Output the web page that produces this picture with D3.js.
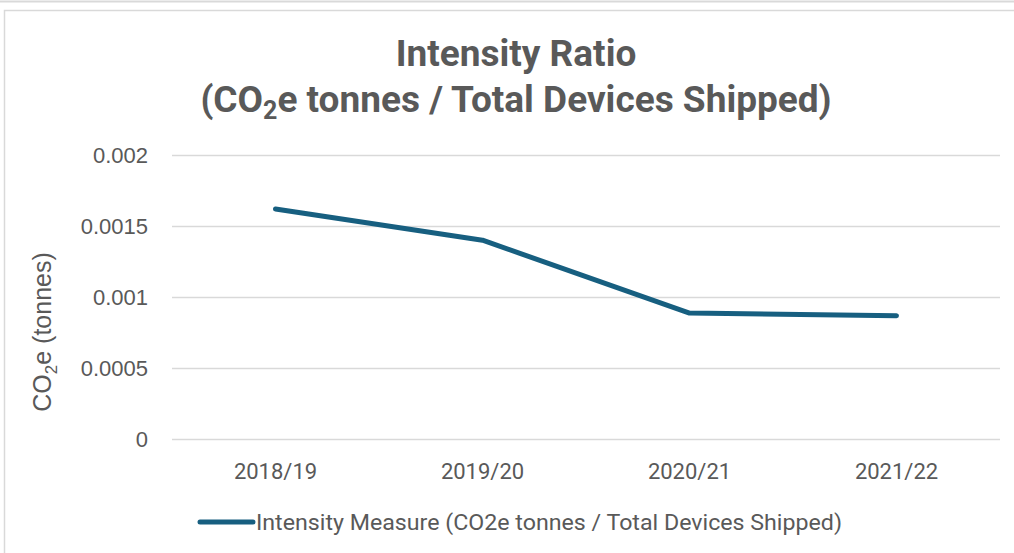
<!DOCTYPE html>
<html>
<head>
<meta charset="utf-8">
<script src="https://cdn.jsdelivr.net/npm/d3@7"></script>
<style>
	body { margin: 0; background: #fff; }
	svg text { font-family: Roboto, "Open Sans", sans-serif; fill: #595959; }
</style>
</head>
<body>
<div class="chart"></div>
<script>
// data
const years = ["2018/19", "2019/20", "2020/21", "2021/22"];
const intensity = [0.00162, 0.00140, 0.000887, 0.000868];
const yTicks = [0, 0.0005, 0.001, 0.0015, 0.002];
const seriesName = "Intensity Measure (CO2e tonnes / Total Devices Shipped)";

(function () {
	drawChart();
}());

function drawChart() {

	const widthSVG = 1014,
		heightSVG = 553;

	const plot = {left: 172, right: 1000, top: 155, bottom: 439};
	const lineColor = "#175f80";

	const svg = d3.select(".chart").append("svg")
		.attr("width", widthSVG)
		.attr("height", heightSVG);

	// outer frame
	svg.append("line")
		.attr("x1", 0).attr("x2", widthSVG)
		.attr("y1", 1.5).attr("y2", 1.5)
		.attr("stroke", "#d9d9d9").attr("stroke-width", 2);
	svg.append("path")
		.attr("d", "M4.5," + heightSVG + "V10.5H" + widthSVG)
		.attr("fill", "none")
		.attr("stroke", "#d9d9d9").attr("stroke-width", 1.5);

	const x = d3.scaleBand()
		.domain(years)
		.range([plot.left, plot.right]);

	const y = d3.scaleLinear()
		.domain([0, 0.002])
		.range([plot.bottom, plot.top]);

	// gridlines
	svg.append("g")
		.selectAll("line")
		.data(yTicks)
		.enter().append("line")
		.attr("x1", plot.left)
		.attr("x2", plot.right)
		.attr("y1", function (d) { return y(d) + 0.5; })
		.attr("y2", function (d) { return y(d) + 0.5; })
		.attr("stroke", "#d9d9d9")
		.attr("stroke-width", 1.5);

	// y axis labels
	const yAxis = d3.axisLeft(y).tickValues(yTicks).tickSize(0).tickPadding(0)
		.tickFormat(function (d) { return String(+d.toFixed(4)); });
	const gy = svg.append("g")
		.attr("transform", "translate(148,0)")
		.call(yAxis);
	gy.select(".domain").remove();
	gy.selectAll("text")
		.attr("font-size", 22)
		.attr("font-family", null)
		.attr("dy", "0.35em")
		.style("font-family", "'Liberation Sans', Arial, sans-serif")
		.style("fill", "#595959");

	// x axis labels
	const xAxis = d3.axisBottom(x).tickSize(0).tickPadding(0);
	const gx = svg.append("g")
		.attr("transform", "translate(0,479)")
		.call(xAxis);
	gx.select(".domain").remove();
	gx.selectAll("text")
		.attr("font-size", 22)
		.attr("font-family", null)
		.attr("dy", 0)
		.style("fill", "#595959");

	// line
	const line = d3.line()
		.x(function (d, i) { return x(years[i]) + x.bandwidth() / 2; })
		.y(function (d) { return y(d); });

	svg.append("path")
		.datum(intensity)
		.attr("fill", "none")
		.attr("stroke", lineColor)
		.attr("stroke-width", 5)
		.attr("stroke-linecap", "round")
		.attr("stroke-linejoin", "round")
		.attr("d", line);

	// title
	const title = svg.append("text")
		.attr("text-anchor", "middle")
		.attr("font-weight", "bold")
		.attr("font-size", 37);
	title.append("tspan")
		.attr("x", 516).attr("y", 66)
		.text("Intensity Ratio");
	const t2 = title.append("tspan")
		.attr("x", 516).attr("y", 112);
	t2.append("tspan").text("(CO");
	t2.append("tspan").attr("font-size", 25).attr("dy", 7).text("2");
	t2.append("tspan").attr("dy", -7).text("e tonnes / Total Devices Shipped)");

	// y axis title
	const yt = svg.append("text")
		.attr("transform", "translate(51,332) rotate(-90)")
		.attr("text-anchor", "middle")
		.attr("font-size", 25)
		.style("font-family", "'Liberation Sans', Arial, sans-serif");
	yt.append("tspan").text("CO");
	yt.append("tspan").attr("font-size", 17).attr("dy", 6).text("2");
	yt.append("tspan").attr("dy", -6).text("e (tonnes)");

	// legend
	const legend = svg.append("g").attr("transform", "translate(200,522)");
	legend.append("line")
		.attr("x1", 0).attr("x2", 53)
		.attr("y1", 0).attr("y2", 0)
		.attr("stroke", lineColor)
		.attr("stroke-width", 5)
		.attr("stroke-linecap", "round");
	legend.append("text")
		.attr("x", 56)
		.attr("y", 0)
		.attr("dy", "0.35em")
		.attr("font-size", 22)
		.attr("textLength", 586)
		.attr("lengthAdjust", "spacingAndGlyphs")
		.text(seriesName);
}
</script>
</body>
</html>
